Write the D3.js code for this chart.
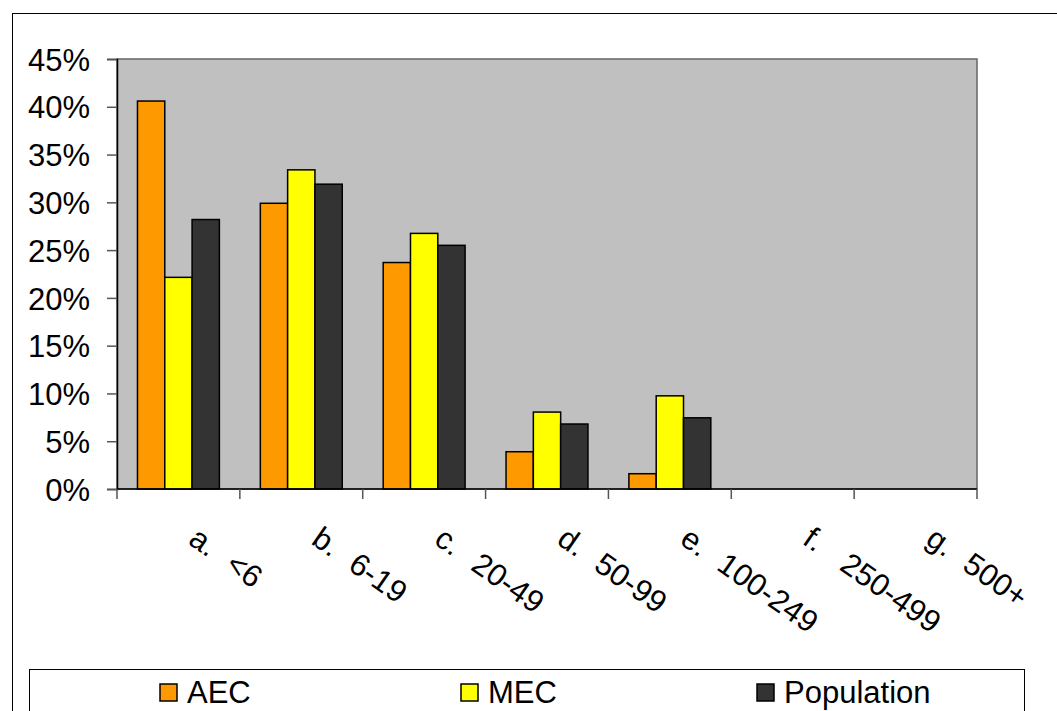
<!DOCTYPE html>
<html>
<head>
<meta charset="utf-8">
<script src="https://cdn.jsdelivr.net/npm/d3@7"></script>
<style>
  html, body { margin: 0; padding: 0; background: #fff; overflow: hidden; }
  svg { display: block; font-family: "Liberation Sans", Arial, sans-serif; }
</style>
</head>
<body>
<svg id="chart" width="1057" height="711"></svg>
<script>
// Size-class categories and the share of each group falling in them
const categories = ["a.  <6", "b.  6-19", "c.  20-49", "d.  50-99", "e.  100-249", "f.  250-499", "g.  500+"];
const seriesNames = ["AEC", "MEC", "Population"];
const aecValues = [0.406, 0.299, 0.237, 0.039, 0.016, 0, 0];
const mecValues = [0.2215, 0.334, 0.2675, 0.0805, 0.0975, 0, 0];
const populationValues = [0.282, 0.319, 0.255, 0.068, 0.0745, 0, 0];
const yTickValues = [0, 0.05, 0.10, 0.15, 0.20, 0.25, 0.30, 0.35, 0.40, 0.45];
const seriesColors = ["#FF9900", "#FFFF00", "#333333"];

const seriesValues = [aecValues, mecValues, populationValues];

const svg = d3.select("#chart");
const plot = { left: 117, right: 977, top: 59, bottom: 489 };

// Outer chart frame (runs past the right and bottom edges of the page)
svg.append("rect")
  .attr("x", 12.5).attr("y", 13.5)
  .attr("width", 1200).attr("height", 900)
  .attr("fill", "#fff").attr("stroke", "#000").attr("stroke-width", 1);

const x0 = d3.scaleBand().domain(categories).range([plot.left, plot.right]).padding(0);
const band = x0.bandwidth();
const x1 = d3.scaleBand().domain(seriesNames)
  .range([band * 0.75 / 4.5, band * 3.75 / 4.5]).padding(0);
const y = d3.scaleLinear().domain([0, 0.45]).range([plot.bottom, plot.top]);

// Plot area
svg.append("rect")
  .attr("x", plot.left).attr("y", plot.top)
  .attr("width", plot.right - plot.left).attr("height", plot.bottom - plot.top)
  .attr("fill", "#C0C0C0").attr("stroke", "#666").attr("stroke-width", 1.5);

// Bars
const groups = svg.append("g").selectAll("g")
  .data(categories)
  .join("g")
  .attr("transform", d => `translate(${x0(d)},0)`);

groups.selectAll("rect")
  .data((c, i) => seriesNames.map((s, j) => ({ s, j, v: seriesValues[j][i] })).filter(d => d.v > 0))
  .join("rect")
  .attr("x", d => x1(d.s))
  .attr("y", d => y(d.v))
  .attr("width", x1.bandwidth())
  .attr("height", d => y(0) - y(d.v))
  .attr("fill", d => seriesColors[d.j])
  .attr("stroke", "#000").attr("stroke-width", 1.5);

// Y axis
const yAxis = svg.append("g")
  .attr("transform", `translate(${plot.left},0)`)
  .call(d3.axisLeft(y).tickValues(yTickValues).tickSize(10).tickPadding(17)
    .tickFormat(d3.format(".0%")));
yAxis.select(".domain").attr("stroke", "#000").attr("stroke-width", 1.5);
yAxis.selectAll(".tick line").attr("stroke", "#555").attr("stroke-width", 1.5);
yAxis.selectAll(".tick text")
  .attr("font-size", 31).attr("fill", "#000")
  .attr("font-family", "'Liberation Sans', Arial, sans-serif")
  .attr("dy", "0.36em");

// X axis: baseline with ticks at category boundaries
const xAxis = svg.append("g");
xAxis.append("line")
  .attr("x1", plot.left).attr("x2", plot.right)
  .attr("y1", plot.bottom).attr("y2", plot.bottom)
  .attr("stroke", "#000").attr("stroke-width", 1.5);
const boundaries = categories.map(c => x0(c)).concat([x0(categories[categories.length - 1]) + band]);
xAxis.selectAll("line.tick")
  .data(boundaries)
  .join("line")
  .attr("class", "tick")
  .attr("x1", d => d).attr("x2", d => d)
  .attr("y1", plot.bottom).attr("y2", plot.bottom + 10)
  .attr("stroke", "#555").attr("stroke-width", 1.5);

// Rotated category labels
const labels = xAxis.selectAll("text.cat")
  .data(categories)
  .join("text")
  .attr("class", "cat")
  .attr("font-size", 31)
  .attr("fill", "#000")
  .attr("transform", d => `translate(${x0(d) + band / 2 + 8.6},543) rotate(35)`);
labels.each(function (d) {
  const parts = d.split(/\s+/);
  const t = d3.select(this);
  t.append("tspan").attr("x", 0).text(parts[0]);
  t.append("tspan").attr("x", 45).text(parts[1]);
});

// Legend
const legend = svg.append("g");
legend.append("rect")
  .attr("x", 29.5).attr("y", 669.5)
  .attr("width", 995).attr("height", 100)
  .attr("fill", "#fff").attr("stroke", "#000").attr("stroke-width", 1);
const legendX = [160, 461, 757];
const items = legend.selectAll("g.item")
  .data(seriesNames)
  .join("g")
  .attr("class", "item")
  .attr("transform", (d, i) => `translate(${legendX[i]},0)`);
items.append("rect")
  .attr("x", 0).attr("y", 684)
  .attr("width", 17).attr("height", 17)
  .attr("fill", (d, i) => seriesColors[i])
  .attr("stroke", "#000").attr("stroke-width", 1.5);
items.append("text")
  .attr("x", 27).attr("y", 703)
  .attr("font-size", 31).attr("fill", "#000")
  .text(d => d);
</script>
</body>
</html>
